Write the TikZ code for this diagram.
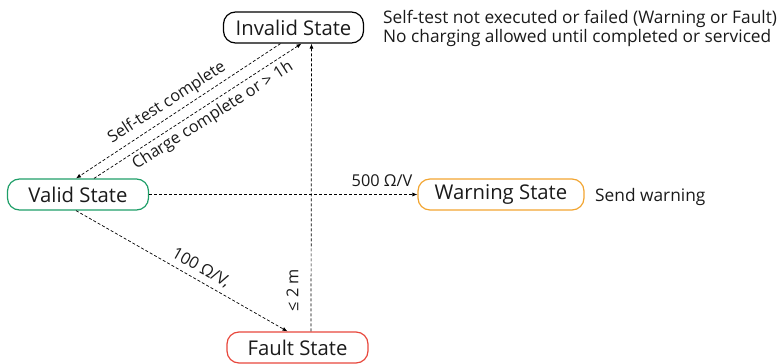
\documentclass[tikz,border=0pt]{standalone}
\usepackage{fontspec}
\setmainfont{Open Sans}
\usetikzlibrary{arrows.meta}
\definecolor{cgreen}{HTML}{1E9E68}
\definecolor{corange}{HTML}{F2A531}
\definecolor{cred}{HTML}{E8473C}
\definecolor{ctext}{HTML}{1A1A1A}
\tikzset{
  state/.style={draw, line width=1.2pt, rounded corners=12pt, minimum height=31pt, inner sep=0pt, font=\fontsize{20.3}{22}\selectfont, text=ctext},
  trans/.style={draw, line width=0.7pt, dash pattern=on 3pt off 2pt, -{Latex[length=5pt,width=4pt]}},
  lbl/.style={font=\fontsize{16.3}{18}\selectfont, inner sep=0pt, text=ctext},
  note/.style={font=\fontsize{17.3}{20}\selectfont, inner sep=0pt, text=ctext, anchor=base west}
}
\begin{document}
\begin{tikzpicture}[x=1pt,y=-1pt]
\useasboundingbox (0,0) rectangle (780,364);
\node[state, minimum width=140pt] (inv) at (293.5,27.5) {Invalid State};
\node[state, draw=cgreen, minimum width=141pt] (val) at (78,194.5) {Valid State};
\node[state, draw=corange, minimum width=166pt] (warn) at (501,194.5) {Warning State};
\node[state, draw=cred, minimum width=141pt] (flt) at (297.5,347.5) {Fault State};

\draw[trans] ([xshift=-13pt]inv.south) -- ([xshift=-2pt]val.north);
\draw[trans] ([xshift=16pt]val.north) -- ([xshift=8pt]inv.south);
\draw[trans] ([xshift=13.5pt]flt.north) -- ([xshift=18pt]inv.south);
\draw[trans] (val.east) -- (warn.west);
\draw[trans] ([xshift=-2pt]val.south) -- ([xshift=-10pt]flt.north);

\node[lbl, rotate=33] (l1) at (167,103) {Self-test complete};
\node[lbl, rotate=32.5] (l2) at (213,116) {Charge complete or > 1h};
\node[lbl, rotate=-29.5] (l3) at (201,268) {100 Ω/V,};
\node[lbl, rotate=90] (l4) at (292.5,290) {≤ 2 m};
\node[lbl] (l5) at (382,181) {500 Ω/V};

\node[note] (n1) at (383,23.5) {Self-test not executed or failed (Warning or Fault)};
\node[note] (n2) at (383,42.5) {No charging allowed until completed or serviced};
\node[note] (n3) at (595,201) {Send warning};
\end{tikzpicture}
\end{document}
